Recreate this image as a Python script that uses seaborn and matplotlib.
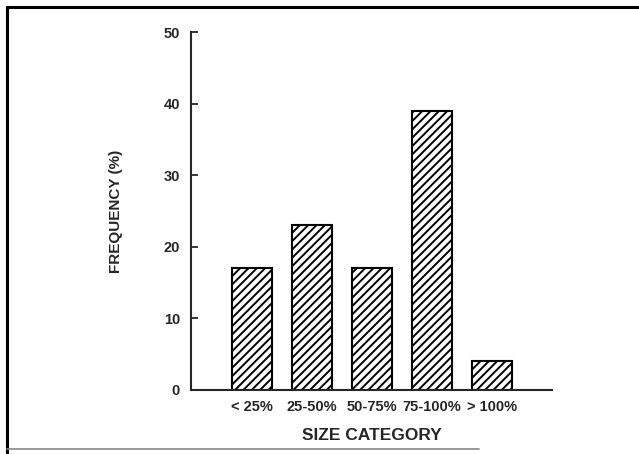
import seaborn as sns
import matplotlib.pyplot as plt
from matplotlib.lines import Line2D

# data
categories = ["< 25%", "25-50%", "50-75%", "75-100%", "> 100%"]
frequency = [17, 23, 17, 39, 4]
yticks = [0, 10, 20, 30, 40, 50]

sns.set_style("ticks")
plt.rcParams["font.family"] = ["Liberation Sans", "DejaVu Sans"]
plt.rcParams["hatch.linewidth"] = 1.4

fig = plt.figure(figsize=(6.39, 4.54), dpi=100)
ax = fig.add_axes([0.299, 0.141, 0.565, 0.7885])

sns.barplot(x=categories, y=frequency, color="white", edgecolor="black",
            linewidth=1.5, width=0.67, saturation=1, ax=ax)
for p in ax.patches:
    p.set_hatch("////")

ax.set_xlim(-1.02, 5.0)
ax.set_ylim(0, 50)
ax.set_yticks(yticks)
ax.set_yticklabels([str(t) for t in yticks], fontsize=10.5, fontweight="bold")
ax.set_xticks(range(len(categories)))
ax.set_xticklabels(categories, fontsize=10.5, fontweight="bold")
ax.tick_params(axis="y", direction="in", length=5, width=1.3, pad=8)
ax.tick_params(axis="x", length=0, pad=7)

sns.despine(ax=ax)
ax.spines["left"].set_linewidth(1.5)
ax.spines["bottom"].set_linewidth(1.5)

ax.set_ylabel("FREQUENCY (%)", fontsize=11, fontweight="bold", labelpad=29)
ax.set_xlabel("SIZE CATEGORY", fontsize=12.5, fontweight="bold", labelpad=10)

# outer frame (top and left edges of the scanned box)
fig.add_artist(Line2D([0.011, 1.0], [0.985, 0.985], color="black", lw=2.2,
                      transform=fig.transFigure))
fig.add_artist(Line2D([0.011, 0.011], [0.0, 0.985], color="black", lw=2.2,
                      transform=fig.transFigure))
fig.add_artist(Line2D([0.011, 0.75], [0.011, 0.011], color="#888888", lw=1.2,
                      transform=fig.transFigure))

fig.savefig("out.png", dpi=100)
